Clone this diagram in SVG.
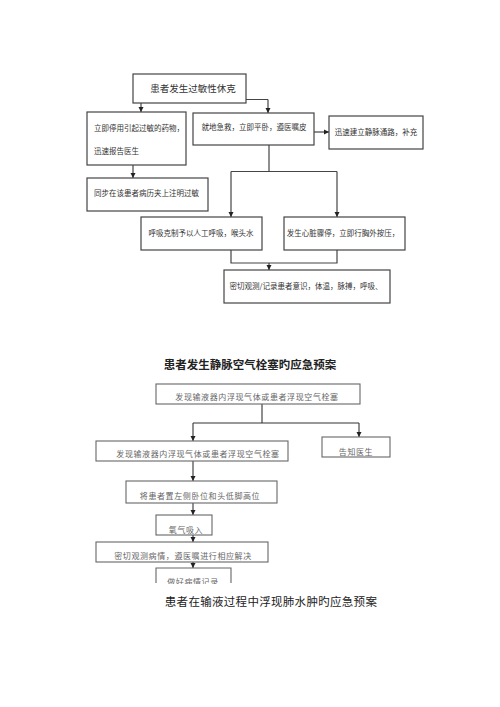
<svg xmlns="http://www.w3.org/2000/svg" width="500" height="707" viewBox="0 0 500 707">
<defs>
<marker id="ah" markerUnits="userSpaceOnUse" markerWidth="6" markerHeight="6" refX="5" refY="3" orient="auto">
<path d="M0,0.5 L5,3 L0,5.5 Z" fill="#222"/>
</marker>
<clipPath id="clipLast"><rect x="0" y="560" width="500" height="24"/></clipPath>
</defs>
<style>
.box{fill:#fff;stroke:#444;stroke-width:1.2}
.box2{fill:#fff;stroke:#666;stroke-width:1.1}
.ln{fill:none;stroke:#444;stroke-width:1.2}
.ln2{fill:none;stroke:#333;stroke-width:1.1}
.t{font-family:"Noto Sans CJK SC","Noto Sans",sans-serif;font-size:7.5px;fill:#333}
.t2{font-family:"Noto Sans CJK SC","Noto Sans",sans-serif;font-size:8px;fill:#666;letter-spacing:0.6px}
.h{font-family:"Noto Sans CJK SC","Noto Sans",sans-serif;font-size:11.5px;font-weight:bold;fill:#222}
</style>
<rect width="500" height="707" fill="#fff"/>

<g id="connectors">
<path class="ln" d="M186,97 V99.5"/>
<path class="ln" d="M141,99.5 H268"/>
<path class="ln" d="M141,99.5 V112" marker-end="url(#ah)"/>
<path class="ln" d="M268,99.5 V113" marker-end="url(#ah)"/>
<path class="ln" d="M133,165 V178" marker-end="url(#ah)"/>
<path class="ln" d="M314,132 H329" marker-end="url(#ah)"/>
<path class="ln" d="M269,145 V171.5 M231,171.5 H337"/>
<path class="ln" d="M231,171.5 V217" marker-end="url(#ah)"/>
<path class="ln" d="M337,171.5 V217" marker-end="url(#ah)"/>
<path class="ln" d="M231,250 V263 H337 V250"/>
<path class="ln" d="M269,263 V270" marker-end="url(#ah)"/>

<path class="ln2" d="M262,404 V423 M193,423 H359"/>
<path class="ln2" d="M193,423 V441" marker-end="url(#ah)"/>
<path class="ln2" d="M359,423 V437" marker-end="url(#ah)"/>
<path class="ln2" d="M193,461 V481" marker-end="url(#ah)"/>
<path class="ln2" d="M193,503 V515" marker-end="url(#ah)"/>
<path class="ln2" d="M193,535 V542" marker-end="url(#ah)"/>
<path class="ln2" d="M193,562 V568" marker-end="url(#ah)"/>
</g>

<g id="n-shock">
<rect class="box" x="133" y="74" width="113" height="29"/>
<text class="t" style="font-size:9.5px" x="193" y="92" text-anchor="middle">患者发生过敏性休克</text>
</g>
<g id="n-stopdrug">
<rect class="box" x="87" y="112" width="99" height="53"/>
<text class="t" x="94" y="131">立即停用引起过敏的药物，</text>
<text class="t" x="94" y="154">迅速报告医生</text>
</g>
<g id="n-record">
<rect class="box" x="87" y="178" width="121" height="33"/>
<text class="t" x="94" y="196">同步在该患者病历夹上注明过敏</text>
</g>
<g id="n-rescue">
<rect class="box" x="193" y="113" width="121" height="32"/>
<text class="t" x="254" y="130" text-anchor="middle">就地急救，立即平卧，遵医嘱皮</text>
</g>
<g id="n-iv">
<rect class="box" x="329" y="116" width="94" height="33"/>
<text class="t" x="376" y="135" text-anchor="middle">迅速建立静脉通路，补充</text>
</g>
<g id="n-breath">
<rect class="box" x="141" y="217" width="121" height="33"/>
<text class="t" x="201" y="236" text-anchor="middle">呼吸克制予以人工呼吸，喉头水</text>
</g>
<g id="n-cardiac">
<rect class="box" x="284" y="217" width="121" height="33"/>
<text class="t" x="343" y="236" text-anchor="middle">发生心脏骤停，立即行胸外按压，</text>
</g>
<g id="n-observe">
<rect class="box" x="224" y="270" width="166" height="33"/>
<text class="t" x="306" y="289" text-anchor="middle">密切观测/记录患者意识，体温，脉搏，呼吸、</text>
</g>

<g id="title-air">
<text class="h" x="250" y="369" text-anchor="middle">患者发生静脉空气栓塞旳应急预案</text>
</g>
<g id="n-air-top">
<rect class="box2" x="156" y="384" width="204" height="20"/>
<text class="t2" x="257" y="400" text-anchor="middle">发现输液器内浮现气体或患者浮现空气栓塞</text>
</g>
<g id="n-air-left">
<rect class="box2" x="96" y="441" width="192" height="20"/>
<text class="t2" x="198" y="457" text-anchor="middle">发现输液器内浮现气体或患者浮现空气栓塞</text>
</g>
<g id="n-doctor">
<rect class="box2" x="322" y="437" width="68" height="20"/>
<text class="t2" x="356" y="455" text-anchor="middle">告知医生</text>
</g>
<g id="n-position">
<rect class="box2" x="126" y="481" width="151" height="22"/>
<text class="t2" x="200" y="499" text-anchor="middle">将患者置左侧卧位和头低脚高位</text>
</g>
<g id="n-oxygen">
<rect class="box2" x="156" y="515" width="56" height="20"/>
<text class="t2" x="186" y="533" text-anchor="middle">氧气吸入</text>
</g>
<g id="n-watch">
<rect class="box2" x="96" y="542" width="172" height="20"/>
<text class="t2" x="183" y="559" text-anchor="middle">密切观测病情，遵医嘱进行相应解决</text>
</g>
<g id="n-log" clip-path="url(#clipLast)">
<path class="box2" d="M156,583 V568 H231 V583" style="fill:#fff"/>
<text class="t2" x="193" y="585" text-anchor="middle">做好病情记录</text>
</g>
<g id="title-edema">
<text class="h" style="font-weight:normal;letter-spacing:0.3px" x="271" y="606" text-anchor="middle">患者在输液过程中浮现肺水肿旳应急预案</text>
</g>
</svg>
